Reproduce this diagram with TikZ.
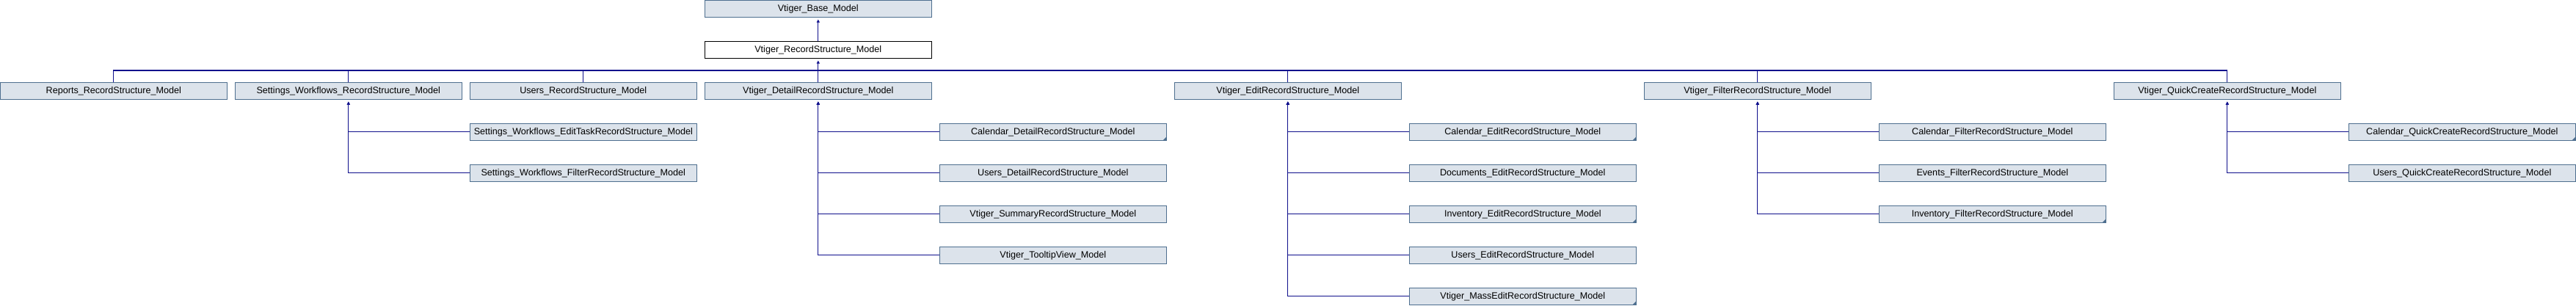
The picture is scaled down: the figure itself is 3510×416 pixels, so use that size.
\documentclass[tikz,border=0pt]{standalone}
\usepackage{fontspec}
\setmainfont{Liberation Sans}
\usetikzlibrary{arrows.meta}
\definecolor{boxfill}{HTML}{DCE3EB}
\definecolor{boxline}{HTML}{4E6F8F}
\definecolor{edgeblue}{HTML}{10108C}
\begin{document}
\begin{tikzpicture}[x=1pt,y=1pt,
  cls/.style={draw=boxline,fill=boxfill,line width=0.9pt,minimum width=309pt,minimum height=22.5pt,inner sep=0pt,font=\fontsize{12.6}{14}\selectfont},
  cur/.style={cls,draw=black,fill=white},
  trunc/.style={path picture={\fill[boxline] (path picture bounding box.south east) -- ++(-4.5,0) -- ++(4.5,4.5) -- cycle;}},
  edge/.style={draw=edgeblue,line width=1.2pt},
  inh/.style={edge,-{Triangle[length=4pt,width=4pt]},shorten >=3pt}]
\useasboundingbox (0,0) rectangle (3510,-416);
\node [cls] (base) at (1114.8,-11.8) {Vtiger\_Base\_Model};
\node [cur] (rs) at (1114.8,-67.8) {Vtiger\_RecordStructure\_Model};
\node [cls] (reports) at (154.8,-123.8) {Reports\_RecordStructure\_Model};
\node [cls] (swf) at (474.8,-123.8) {Settings\_Workflows\_RecordStructure\_Model};
\node [cls] (users) at (794.8,-123.8) {Users\_RecordStructure\_Model};
\node [cls] (detail) at (1114.8,-123.8) {Vtiger\_DetailRecordStructure\_Model};
\node [cls] (edit) at (1754.8,-123.8) {Vtiger\_EditRecordStructure\_Model};
\node [cls] (filter) at (2394.8,-123.8) {Vtiger\_FilterRecordStructure\_Model};
\node [cls] (qc) at (3034.8,-123.8) {Vtiger\_QuickCreateRecordStructure\_Model};
\node [cls] (swfTask) at (794.8,-179.8) {Settings\_Workflows\_EditTaskRecordStructure\_Model};
\node [cls] (swfFilter) at (794.8,-235.8) {Settings\_Workflows\_FilterRecordStructure\_Model};
\node [cls,trunc] (calDetail) at (1434.8,-179.8) {Calendar\_DetailRecordStructure\_Model};
\node [cls] (usersDetail) at (1434.8,-235.8) {Users\_DetailRecordStructure\_Model};
\node [cls] (summary) at (1434.8,-291.8) {Vtiger\_SummaryRecordStructure\_Model};
\node [cls] (tooltip) at (1434.8,-347.8) {Vtiger\_TooltipView\_Model};
\node [cls,trunc] (calEdit) at (2074.8,-179.8) {Calendar\_EditRecordStructure\_Model};
\node [cls] (docEdit) at (2074.8,-235.8) {Documents\_EditRecordStructure\_Model};
\node [cls,trunc] (invEdit) at (2074.8,-291.8) {Inventory\_EditRecordStructure\_Model};
\node [cls] (usersEdit) at (2074.8,-347.8) {Users\_EditRecordStructure\_Model};
\node [cls,trunc] (massEdit) at (2074.8,-403.8) {Vtiger\_MassEditRecordStructure\_Model};
\node [cls] (calFilter) at (2714.8,-179.8) {Calendar\_FilterRecordStructure\_Model};
\node [cls] (eventsFilter) at (2714.8,-235.8) {Events\_FilterRecordStructure\_Model};
\node [cls,trunc] (invFilter) at (2714.8,-291.8) {Inventory\_FilterRecordStructure\_Model};
\node [cls,trunc] (calQC) at (3354.8,-179.8) {Calendar\_QuickCreateRecordStructure\_Model};
\node [cls] (usersQC) at (3354.8,-235.8) {Users\_QuickCreateRecordStructure\_Model};
\coordinate (bus) at (1114.8,-96);
\draw [inh] (rs.north) -- (base.south);
\draw [inh] (bus) -- (rs.south);
\draw [edge] (reports.north) |- (bus);
\draw [edge] (swf.north) |- (bus);
\draw [edge] (users.north) |- (bus);
\draw [edge] (detail.north) -- (bus);
\draw [edge] (edit.north) |- (bus);
\draw [edge] (filter.north) |- (bus);
\draw [edge] (qc.north) |- (bus);
\draw [inh] (swfTask.west) -| (swf.south);
\draw [inh] (swfFilter.west) -| (swf.south);
\draw [inh] (calDetail.west) -| (detail.south);
\draw [inh] (usersDetail.west) -| (detail.south);
\draw [inh] (summary.west) -| (detail.south);
\draw [inh] (tooltip.west) -| (detail.south);
\draw [inh] (calEdit.west) -| (edit.south);
\draw [inh] (docEdit.west) -| (edit.south);
\draw [inh] (invEdit.west) -| (edit.south);
\draw [inh] (usersEdit.west) -| (edit.south);
\draw [inh] (massEdit.west) -| (edit.south);
\draw [inh] (calFilter.west) -| (filter.south);
\draw [inh] (eventsFilter.west) -| (filter.south);
\draw [inh] (invFilter.west) -| (filter.south);
\draw [inh] (calQC.west) -| (qc.south);
\draw [inh] (usersQC.west) -| (qc.south);
\end{tikzpicture}
\end{document}
